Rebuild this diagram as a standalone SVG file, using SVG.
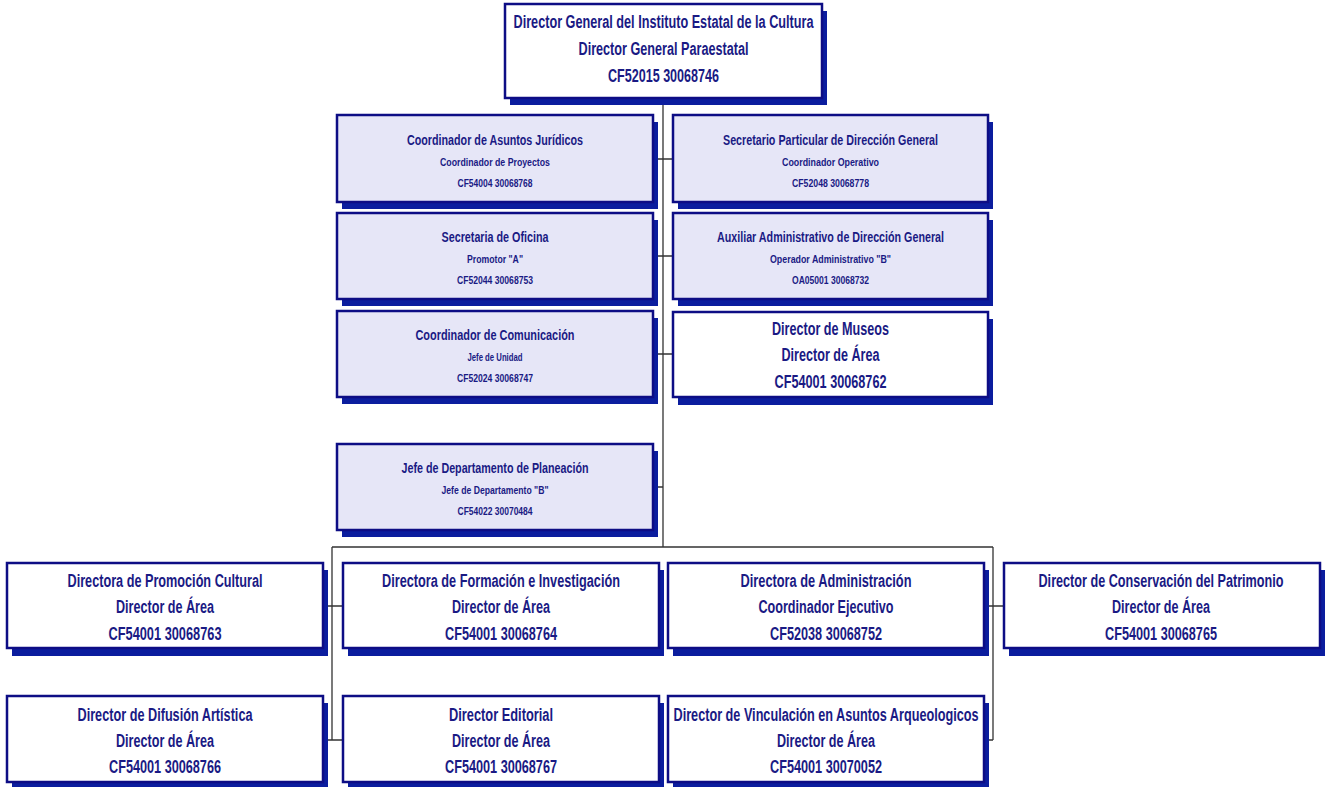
<svg xmlns="http://www.w3.org/2000/svg" width="1330" height="787" viewBox="0 0 1330 787">
<style>
.sh{fill:#0B1D9E}
.bx{fill:#FFFFFF;stroke:#0D0D85;stroke-width:2.5}
.lv{fill:#E6E6F7;stroke:#0D0D85;stroke-width:2.5}
text{font-family:"Liberation Sans",Arial,sans-serif;font-weight:bold;fill:#1A1A84;text-anchor:middle}
.b{font-size:18px}
.s1{font-size:14px}
.s2{font-size:11px}
.cn{stroke:#333;stroke-width:1.3;fill:none}
</style>
<rect width="1330" height="787" fill="#fff"/>
<g id="connectors">
<path class="cn" d="M663,98V547M332,547H993M332,547V740M993,547V740"/>
<path class="cn" d="M653,159H673M653,256H673M653,354H673M653,487H663M323,606H343M323,740H343M984,606H1004M984,740H993"/>
</g>
<g id="n0">
<rect class="sh" x="510" y="11" width="317" height="94"/>
<rect class="bx" x="505" y="4" width="317" height="94"/>
<text class="b" x="663.5" y="28" textLength="300" lengthAdjust="spacingAndGlyphs">Director General del Instituto Estatal de la Cultura</text>
<text class="b" x="663.5" y="55" textLength="170" lengthAdjust="spacingAndGlyphs">Director General Paraestatal</text>
<text class="b" x="663.5" y="82" textLength="111" lengthAdjust="spacingAndGlyphs">CF52015 30068746</text>
</g>
<g id="n1">
<rect class="sh" x="342" y="122" width="316" height="87"/>
<rect class="lv" x="337" y="115" width="316" height="87"/>
<text class="s1" x="495" y="145" textLength="176" lengthAdjust="spacingAndGlyphs">Coordinador de Asuntos Jurídicos</text>
<text class="s2" x="495" y="166" textLength="110" lengthAdjust="spacingAndGlyphs">Coordinador de Proyectos</text>
<text class="s2" x="495" y="187" textLength="75" lengthAdjust="spacingAndGlyphs">CF54004 30068768</text>
</g>
<g id="n2">
<rect class="sh" x="678" y="122" width="315" height="87"/>
<rect class="lv" x="673" y="115" width="315" height="87"/>
<text class="s1" x="830.5" y="145" textLength="215" lengthAdjust="spacingAndGlyphs">Secretario Particular de Dirección General</text>
<text class="s2" x="830.5" y="166" textLength="97" lengthAdjust="spacingAndGlyphs">Coordinador Operativo</text>
<text class="s2" x="830.5" y="187" textLength="77" lengthAdjust="spacingAndGlyphs">CF52048 30068778</text>
</g>
<g id="n3">
<rect class="sh" x="342" y="220" width="316" height="86"/>
<rect class="lv" x="337" y="213" width="316" height="86"/>
<text class="s1" x="495" y="242" textLength="107" lengthAdjust="spacingAndGlyphs">Secretaria de Oficina</text>
<text class="s2" x="495" y="263" textLength="56" lengthAdjust="spacingAndGlyphs">Promotor "A"</text>
<text class="s2" x="495" y="284" textLength="76" lengthAdjust="spacingAndGlyphs">CF52044 30068753</text>
</g>
<g id="n4">
<rect class="sh" x="678" y="220" width="315" height="86"/>
<rect class="lv" x="673" y="213" width="315" height="86"/>
<text class="s1" x="830.5" y="242" textLength="227" lengthAdjust="spacingAndGlyphs">Auxiliar Administrativo de Dirección General</text>
<text class="s2" x="830.5" y="263" textLength="121" lengthAdjust="spacingAndGlyphs">Operador Administrativo "B"</text>
<text class="s2" x="830.5" y="284" textLength="77" lengthAdjust="spacingAndGlyphs">OA05001 30068732</text>
</g>
<g id="n5">
<rect class="sh" x="342" y="318" width="316" height="86"/>
<rect class="lv" x="337" y="311" width="316" height="86"/>
<text class="s1" x="495" y="340" textLength="159" lengthAdjust="spacingAndGlyphs">Coordinador de Comunicación</text>
<text class="s2" x="495" y="361" textLength="55" lengthAdjust="spacingAndGlyphs">Jefe de Unidad</text>
<text class="s2" x="495" y="382" textLength="76" lengthAdjust="spacingAndGlyphs">CF52024 30068747</text>
</g>
<g id="n6">
<rect class="sh" x="678" y="319" width="315" height="86"/>
<rect class="bx" x="673" y="312" width="315" height="85"/>
<text class="b" x="830.5" y="335" textLength="117" lengthAdjust="spacingAndGlyphs">Director de Museos</text>
<text class="b" x="830.5" y="361" textLength="98" lengthAdjust="spacingAndGlyphs">Director de Área</text>
<text class="b" x="830.5" y="388" textLength="112" lengthAdjust="spacingAndGlyphs">CF54001 30068762</text>
</g>
<g id="n7">
<rect class="sh" x="342" y="451" width="316" height="86"/>
<rect class="lv" x="337" y="444" width="316" height="86"/>
<text class="s1" x="495" y="473" textLength="187" lengthAdjust="spacingAndGlyphs">Jefe de Departamento de Planeación</text>
<text class="s2" x="495" y="494" textLength="107" lengthAdjust="spacingAndGlyphs">Jefe de Departamento "B"</text>
<text class="s2" x="495" y="515" textLength="75" lengthAdjust="spacingAndGlyphs">CF54022 30070484</text>
</g>
<g id="n8">
<rect class="sh" x="12" y="570" width="316" height="86"/>
<rect class="bx" x="7" y="563" width="316" height="85"/>
<text class="b" x="165" y="587" textLength="195" lengthAdjust="spacingAndGlyphs">Directora de Promoción Cultural</text>
<text class="b" x="165" y="613" textLength="98" lengthAdjust="spacingAndGlyphs">Director de Área</text>
<text class="b" x="165" y="640" textLength="113" lengthAdjust="spacingAndGlyphs">CF54001 30068763</text>
</g>
<g id="n9">
<rect class="sh" x="348" y="570" width="316" height="86"/>
<rect class="bx" x="343" y="563" width="316" height="85"/>
<text class="b" x="501" y="587" textLength="238" lengthAdjust="spacingAndGlyphs">Directora de Formación e Investigación</text>
<text class="b" x="501" y="613" textLength="98" lengthAdjust="spacingAndGlyphs">Director de Área</text>
<text class="b" x="501" y="640" textLength="112" lengthAdjust="spacingAndGlyphs">CF54001 30068764</text>
</g>
<g id="n10">
<rect class="sh" x="673" y="570" width="316" height="86"/>
<rect class="bx" x="668" y="563" width="316" height="85"/>
<text class="b" x="826" y="587" textLength="171" lengthAdjust="spacingAndGlyphs">Directora de Administración</text>
<text class="b" x="826" y="613" textLength="135" lengthAdjust="spacingAndGlyphs">Coordinador Ejecutivo</text>
<text class="b" x="826" y="640" textLength="112" lengthAdjust="spacingAndGlyphs">CF52038 30068752</text>
</g>
<g id="n11">
<rect class="sh" x="1009" y="570" width="316" height="86"/>
<rect class="bx" x="1004" y="563" width="316" height="85"/>
<text class="b" x="1283.5" y="587" style="text-anchor:end" textLength="245" lengthAdjust="spacingAndGlyphs">Director de Conservación del Patrimonio</text>
<text class="b" x="1161" y="613" textLength="98" lengthAdjust="spacingAndGlyphs">Director de Área</text>
<text class="b" x="1161" y="640" textLength="112" lengthAdjust="spacingAndGlyphs">CF54001 30068765</text>
</g>
<g id="n12">
<rect class="sh" x="12" y="703" width="316" height="86"/>
<rect class="bx" x="7" y="696" width="316" height="86"/>
<text class="b" x="165" y="721" textLength="175" lengthAdjust="spacingAndGlyphs">Director de Difusión Artística</text>
<text class="b" x="165" y="747" textLength="98" lengthAdjust="spacingAndGlyphs">Director de Área</text>
<text class="b" x="165" y="773" textLength="112" lengthAdjust="spacingAndGlyphs">CF54001 30068766</text>
</g>
<g id="n13">
<rect class="sh" x="348" y="703" width="316" height="86"/>
<rect class="bx" x="343" y="696" width="316" height="86"/>
<text class="b" x="501" y="721" textLength="104" lengthAdjust="spacingAndGlyphs">Director Editorial</text>
<text class="b" x="501" y="747" textLength="98" lengthAdjust="spacingAndGlyphs">Director de Área</text>
<text class="b" x="501" y="773" textLength="112" lengthAdjust="spacingAndGlyphs">CF54001 30068767</text>
</g>
<g id="n14">
<rect class="sh" x="673" y="703" width="316" height="86"/>
<rect class="bx" x="668" y="696" width="316" height="86"/>
<text class="b" x="826" y="721" textLength="305" lengthAdjust="spacingAndGlyphs">Director de Vinculación en Asuntos Arqueologicos</text>
<text class="b" x="826" y="747" textLength="98" lengthAdjust="spacingAndGlyphs">Director de Área</text>
<text class="b" x="826" y="773" textLength="112" lengthAdjust="spacingAndGlyphs">CF54001 30070052</text>
</g>
</svg>
